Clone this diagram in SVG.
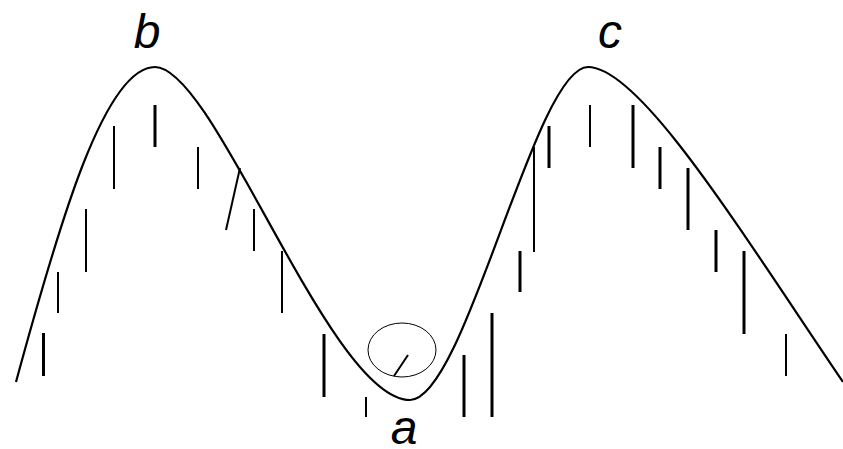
<svg xmlns="http://www.w3.org/2000/svg" width="843" height="449" viewBox="0 0 843 449">
<style>
.curve{fill:none;stroke:#000;stroke-width:2.2}
.thin{stroke:#000;stroke-width:2}
.thick{stroke:#000;stroke-width:3}
.lbl{font-family:"Liberation Sans",Arial,sans-serif;font-style:italic;font-size:48px;fill:#000;text-anchor:middle}
</style>
<rect width="843" height="449" fill="#fff"/>
<g id="landscape">
<path class="curve" d="M16,382 C60,220 105,67 155,67 C215,67 330,400 410,400 C465,400 535,67 588,67 C640,67 740,230 843,382"/>
</g>
<g id="bars">
<line class="thick" x1="43.5" y1="333" x2="43.5" y2="376"/>
<line class="thin" x1="58" y1="272" x2="58" y2="313"/>
<line class="thin" x1="86" y1="209" x2="86" y2="272"/>
<line class="thin" x1="114" y1="126" x2="114" y2="189"/>
<line class="thick" x1="155" y1="105" x2="155" y2="147"/>
<line class="thin" x1="198" y1="147" x2="198" y2="189"/>
<line class="thin" x1="240" y1="168" x2="226" y2="230"/>
<line class="thin" x1="254" y1="209" x2="254" y2="251"/>
<line class="thin" x1="282" y1="251" x2="282" y2="313"/>
<line class="thick" x1="324" y1="334" x2="324" y2="397"/>
<line class="thin" x1="366" y1="397" x2="366" y2="417"/>
<line class="thick" x1="464" y1="355" x2="464" y2="417"/>
<line class="thick" x1="492" y1="313" x2="492" y2="417"/>
<line class="thick" x1="520" y1="251" x2="520" y2="292"/>
<line class="thin" x1="534" y1="147" x2="534" y2="252"/>
<line class="thick" x1="549" y1="126" x2="549" y2="168"/>
<line class="thin" x1="590" y1="105" x2="590" y2="147"/>
<line class="thick" x1="633" y1="105" x2="633" y2="168"/>
<line class="thick" x1="660" y1="147" x2="660" y2="189"/>
<line class="thick" x1="688" y1="168" x2="688" y2="230"/>
<line class="thick" x1="716" y1="230" x2="716" y2="272"/>
<line class="thick" x1="744" y1="251" x2="744" y2="334"/>
<line class="thin" x1="786" y1="334" x2="786" y2="376"/>
</g>
<g id="ball">
<ellipse cx="402" cy="350" rx="34" ry="27" fill="none" stroke="#000" stroke-width="1"/>
<line class="thin" x1="394" y1="376" x2="408" y2="355"/>
</g>
<g id="labels">
<text class="lbl" x="147" y="48">b</text>
<text class="lbl" x="610" y="48">c</text>
<text class="lbl" x="404" y="444">a</text>
</g>
</svg>
